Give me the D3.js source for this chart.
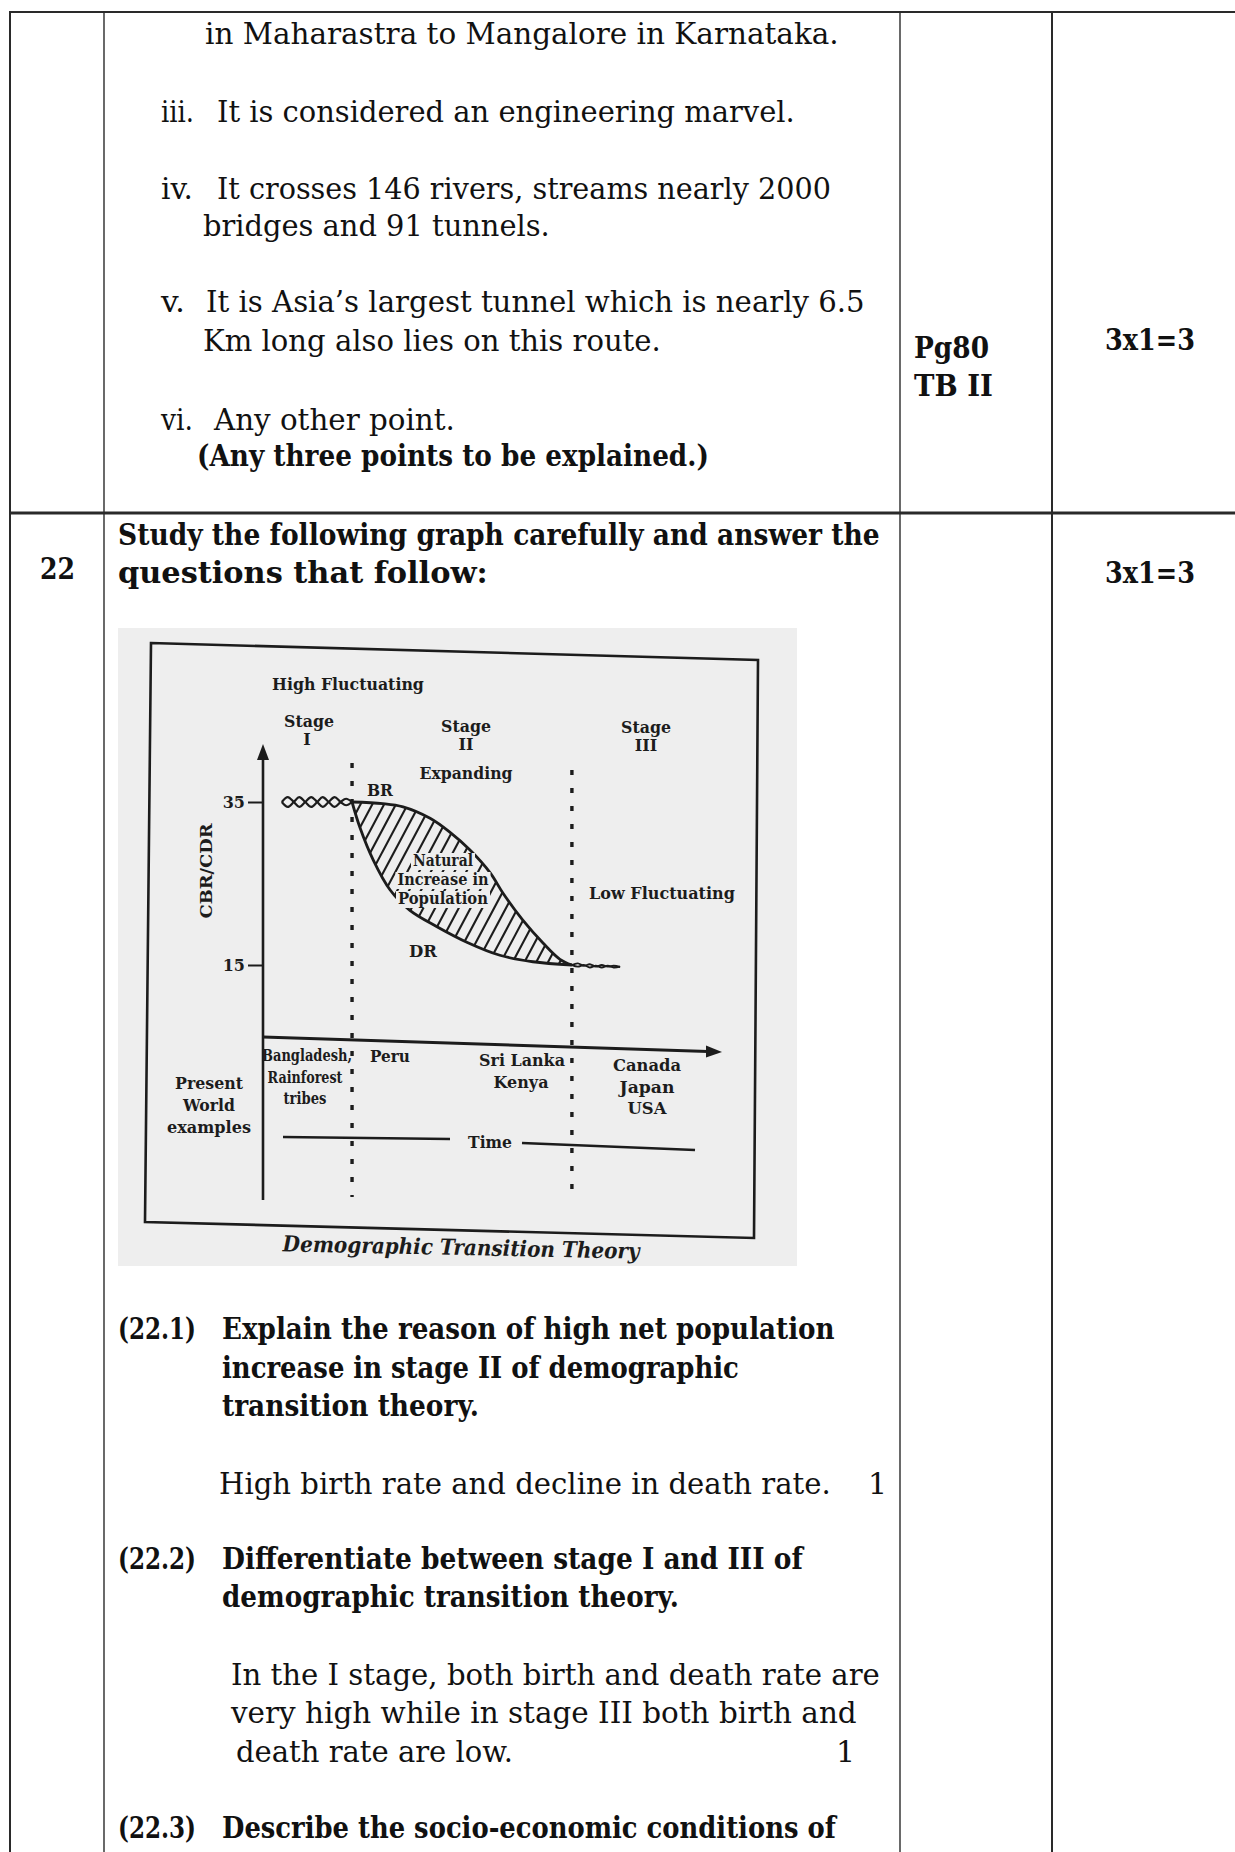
<!DOCTYPE html>
<html><head><meta charset="utf-8">
<script src="https://cdn.jsdelivr.net/npm/d3@7"></script>
<style>html,body{margin:0;padding:0;background:#fff;}svg{display:block;}</style>
</head><body>
<svg id="page" width="1235" height="1852"></svg>
<script>
// ---------------- DATA ----------------
// time axis is schematic: 0..100 ; rates in per thousand (CBR / CDR)
const yTicks = [35, 15];
const stageBounds = [19.4, 67.3];
const stageLabels = [["Stage", "I"], ["Stage", "II"], ["Stage", "III"]];
const phaseLabels = ["High Fluctuating", "Expanding", "Low Fluctuating"];
// Stage II : birth rate (BR) and death rate (DR)
const birthRate = [[19.4,35],[26.1,34.8],[30.5,34.4],[36.4,33.0],[40.7,31.3],[45.1,29.1],[49.5,26.3],[52.3,23.8],[56.6,20.5],[61.0,17.7],[64.7,15.7],[67.3,15.0]];
const deathRate = [[19.4,35],[21.1,31.9],[24.0,27.9],[27.7,24.2],[32.0,21.7],[37.9,19.7],[44.4,17.8],[51.6,16.2],[58.8,15.4],[67.3,15.0]];
// Stage I : high fluctuating (both rates around 35)
const stage1Time  = [4.1,5.4,6.7,7.9,9.2,10.5,11.8,13.0,14.3,15.6,16.9,18.1,19.4];
const stage1Birth = [35,35.6,35,34.4,35,35.6,35,34.4,35,35.6,35,34.6,35];
const stage1Death = [35,34.4,35,35.6,35,34.4,35,35.6,35,34.4,35,35.4,35];
// Stage III : low fluctuating (both rates around 15)
const stage3Time  = [67.3,68.6,69.9,71.2,72.5,73.8,75.1,76.4,77.8];
const stage3Birth = [15,15.2,14.9,15.1,14.8,15.0,14.8,14.9,14.75];
const stage3Death = [15,14.8,15.0,14.7,14.9,14.7,14.9,14.7,14.8];
const examplesStage1 = ["Bangladesh,", "Rainforest", "tribes"];
const examplesStage2 = ["Peru", "Sri Lanka", "Kenya"];
const examplesStage3 = ["Canada", "Japan", "USA"];
const examplesTitle = ["Present", "World", "examples"];
const areaLabel = ["Natural", "Increase in", "Population"];

// ---------------- PAGE ----------------
const svg = d3.select("#page");
svg.append("rect").attr("width",1235).attr("height",1852).attr("fill","#fff");

function T(g, s, x, y, o = {}) {
  const t = g.append("text").attr("x", x).attr("y", y).text(s)
    .attr("font-family", o.ff || "DejaVu Serif")
    .attr("font-size", o.fs || 30)
    .attr("font-weight", o.fw || "normal")
    .attr("fill", o.fill || "#000");
  if (o.anchor) t.attr("text-anchor", o.anchor);
  if (o.style) t.attr("font-style", o.style);
  if (o.w) t.attr("textLength", o.w).attr("lengthAdjust", "spacingAndGlyphs");
  if (o.tr) t.attr("transform", o.tr);
  return t;
}
// fit a text to a target width by horizontal scaling (keeps the bbox honest)
function F(g, s, x0, y0, w, o = {}) {
  const t = T(g, s, 0, 0, Object.assign({}, o, {w: null, tr: null}));
  let sx = 1;
  if (w) { const n = t.node().getComputedTextLength(); if (n > 0) sx = w / n; }
  t.attr("transform", `translate(${x0},${y0})${o.rot ? ` rotate(${o.rot})` : ""} scale(${sx},1)`);
  return t;
}

// table grid
const grid = svg.append("g").attr("stroke", "#2a2a2a");
grid.append("line").attr("x1",9).attr("x2",1235).attr("y1",12).attr("y2",12).attr("stroke-width",2.2);
grid.append("line").attr("x1",9).attr("x2",1235).attr("y1",513).attr("y2",513).attr("stroke-width",2.8);
grid.append("line").attr("x1",10).attr("x2",10).attr("y1",11).attr("y2",1852).attr("stroke-width",2);
[104, 900].forEach(cx => grid.append("line").attr("x1",cx).attr("x2",cx).attr("y1",11).attr("y2",1852).attr("stroke-width",1.4));
grid.append("line").attr("x1",1052).attr("x2",1052).attr("y1",11).attr("y2",1852).attr("stroke-width",2);

const doc = svg.append("g");
const B = "bold";
const docLayout = [
  ["in Maharastra to Mangalore in Karnataka.", 205, 44, 634],
  ["iii.", 161, 122, 33],
  ["It is considered an engineering marvel.", 217, 122, 578],
  ["iv.", 161, 199, 32],
  ["It crosses 146 rivers, streams nearly 2000", 217, 199, 614],
  ["bridges and 91 tunnels.", 203, 236, 347],
  ["v.", 161, 312, 24],
  ["It is Asia\u2019s largest tunnel which is nearly 6.5", 206, 312, 659],
  ["Km long also lies on this route.", 203, 351, 458],
  ["vi.", 161, 430, 32],
  ["Any other point.", 214, 430, 241],
  ["(Any three points to be explained.)", 197, 466, 512, B],
  ["Pg80", 914, 358, 75, B],
  ["TB II", 914, 396, 79, B],
  ["3x1=3", 1105, 350, 90, B],
  ["22", 40, 579, 35, B],
  ["Study the following graph carefully and answer the", 118, 545, 762, B],
  ["questions that follow:", 118, 583, 370, B],
  ["3x1=3", 1105, 583, 90, B],
  ["(22.1)", 118, 1339, 78, B],
  ["Explain the reason of high net population", 222, 1339, 613, B],
  ["increase in stage II of demographic", 222, 1378, 517, B],
  ["transition theory.", 222, 1416, 257, B],
  ["High birth rate and decline in death rate.", 219, 1494, 612],
  ["1", 868, 1494, 0],
  ["(22.2)", 118, 1569, 78, B],
  ["Differentiate between stage I and III of", 222, 1569, 581, B],
  ["demographic transition theory.", 222, 1607, 457, B],
  ["In the I stage, both birth and death rate are", 231, 1685, 649],
  ["very high while in stage III both birth and", 231, 1723, 626],
  ["death rate are low.", 236, 1762, 277],
  ["1", 836, 1762, 0],
  ["(22.3)", 118, 1838, 78, B],
  ["Describe the socio-economic  conditions of", 222, 1838, 614, B]
];
docLayout.forEach(([s, x0, y0, w, fw]) => {
  F(doc, s, x0, y0, w || null, {fs: fw ? 29 : 30, fw: fw || "normal", fill: "#111"});
});

// ---------------- CHART (scanned figure) ----------------
const fig = svg.append("g");
const paper = "#eeeeee";
fig.append("rect").attr("x",118).attr("y",628).attr("width",679).attr("height",638).attr("fill",paper);
const ink = "#1c1c1c";
fig.append("path").attr("d","M151,643 L758,660 L754,1238 L145,1222 Z")
  .attr("fill","none").attr("stroke",ink).attr("stroke-width",2.6);

const x = d3.scaleLinear().domain([0,100]).range([263,722]);
const y = d3.scaleLinear().domain([15,35]).range([965,802]);
const xAxisY0 = 1037, xAxisY1 = 1052;

// y axis with arrow
fig.append("line").attr("x1",x(0)).attr("x2",x(0)).attr("y1",757).attr("y2",1200)
  .attr("stroke",ink).attr("stroke-width",2.6);
fig.append("path").attr("d",`M${x(0)},744 L${x(0)-6},760 L${x(0)+6},760 Z`).attr("fill",ink);
const yAx = fig.append("g").attr("transform",`translate(${x(0)},0)`)
  .call(d3.axisLeft(y).tickValues(yTicks).tickSize(15).tickPadding(3));
yAx.select(".domain").remove();
yAx.selectAll(".tick line").attr("stroke",ink).attr("stroke-width",2);
yAx.selectAll(".tick text").attr("font-family","DejaVu Serif").attr("font-weight","bold")
  .attr("font-size",16).attr("fill",ink).attr("dy","0.35em");

// x axis (Time) with arrow
fig.append("line").attr("x1",x(0)).attr("y1",xAxisY0).attr("x2",x(100)-14).attr("y2",xAxisY1-0.5)
  .attr("stroke",ink).attr("stroke-width",3);
fig.append("path").attr("d",`M${x(100)},${xAxisY1} L${x(100)-16},${xAxisY1-6.5} L${x(100)-16},${xAxisY1+5.5} Z`).attr("fill",ink);

// stage divider dotted lines
stageBounds.forEach((b, i) => {
  fig.append("line").attr("x1",x(b)).attr("x2",x(b)).attr("y1",i ? 770 : 763).attr("y2",1197)
    .attr("stroke",ink).attr("stroke-width",3.4).attr("stroke-dasharray","5,13");
});

// hatched natural increase area
const lineC = d3.line().x(d => x(d[0])).y(d => y(d[1])).curve(d3.curveCatmullRom.alpha(0.5));
const brPath = lineC(birthRate);
const drRev = lineC(deathRate.slice().reverse());
const areaPath = brPath + "L" + drRev.slice(1) + "Z";
const defs = svg.append("defs");
defs.append("clipPath").attr("id","natClip").append("path").attr("d",areaPath);
const hatch = fig.append("g").attr("clip-path","url(#natClip)");
const slope = Math.tan(62 * Math.PI / 180);
d3.range(250, 700, 11.8).forEach(x0 => {
  hatch.append("line").attr("x1",x0).attr("y1",990).attr("x2",x0 + 200 / slope).attr("y2",790)
    .attr("stroke",ink).attr("stroke-width",2.1);
});

// BR and DR curves
fig.append("path").attr("d",brPath).attr("fill","none").attr("stroke",ink).attr("stroke-width",2.8);
fig.append("path").attr("d",lineC(deathRate)).attr("fill","none").attr("stroke",ink).attr("stroke-width",2.8);

// fluctuating stages
const flu = (ts, vs) => lineC(ts.map((t, i) => [t, vs[i]]));
[[stage1Time, stage1Birth], [stage1Time, stage1Death]].forEach(([ts, vs]) =>
  fig.append("path").attr("d",flu(ts, vs)).attr("fill","none").attr("stroke",ink).attr("stroke-width",2.2));
[[stage3Time, stage3Birth], [stage3Time, stage3Death]].forEach(([ts, vs]) =>
  fig.append("path").attr("d",flu(ts, vs)).attr("fill","none").attr("stroke",ink).attr("stroke-width",1.9));

// labels
const lab = (s, x0, y0, w, anchor, fs) => F(fig, s, x0, y0, w, {fs: fs || 17, fw: "bold", fill: ink, anchor: anchor || "middle"});
lab(phaseLabels[0], 272, 690, 152, "start");
const stageX = [309, 466, 646], stageY = [727, 732, 733];
stageLabels.forEach((sl, i) => {
  lab(sl[0], stageX[i], stageY[i], 50);
  lab(sl[1], stageX[i] - (i === 0 ? 2 : 0), stageY[i] + 18, null, "middle", 16);
});
lab(phaseLabels[1], 466, 779, 93);
lab(phaseLabels[2], 589, 899, 146, "start");
lab("BR", 367, 796, 26, "start");
lab("DR", 423, 957, 28);
// cleared background behind the area label, then the label
const areaW = [60, 91, 90];
areaLabel.forEach((s, i) => {
  const cy = 866 + i * 19;
  fig.append("rect").attr("x", 443 - areaW[i] / 2 - 2).attr("y", cy - 13)
    .attr("width", areaW[i] + 4).attr("height", 17).attr("fill", paper);
});
areaLabel.forEach((s, i) => lab(s, 443, 866 + i * 19, areaW[i], "middle", 16));
examplesTitle.forEach((s, i) => lab(s, 209, 1089 + i * 22, [68, 52, 84][i]));
lab(examplesStage1[0], 262, 1061, 90, "start");
lab(examplesStage1[1], 305, 1083, 75);
lab(examplesStage1[2], 305, 1104, 43);
lab(examplesStage2[0], 390, 1062, 40);
lab(examplesStage2[1], 522, 1066, 86);
lab(examplesStage2[2], 521, 1088, 55);
examplesStage3.forEach((s, i) => lab(s, 647, 1071 + i * 21.5, [68, 55, 39][i]));
lab("Time", 490, 1148, 44);
fig.append("line").attr("x1",283).attr("y1",1137).attr("x2",450).attr("y2",1139).attr("stroke",ink).attr("stroke-width",2.4);
fig.append("line").attr("x1",522).attr("y1",1143).attr("x2",695).attr("y2",1150).attr("stroke",ink).attr("stroke-width",2.4);
F(fig, "CBR/CDR", 212, 871, 95, {fs: 17, fw: "bold", fill: ink, anchor: "middle", rot: -90});
F(fig, "Demographic Transition Theory", 461, 1255, 357, {fs: 22, fw: "bold", style: "italic", fill: ink, anchor: "middle", rot: 1.2});
</script>
</body></html>
